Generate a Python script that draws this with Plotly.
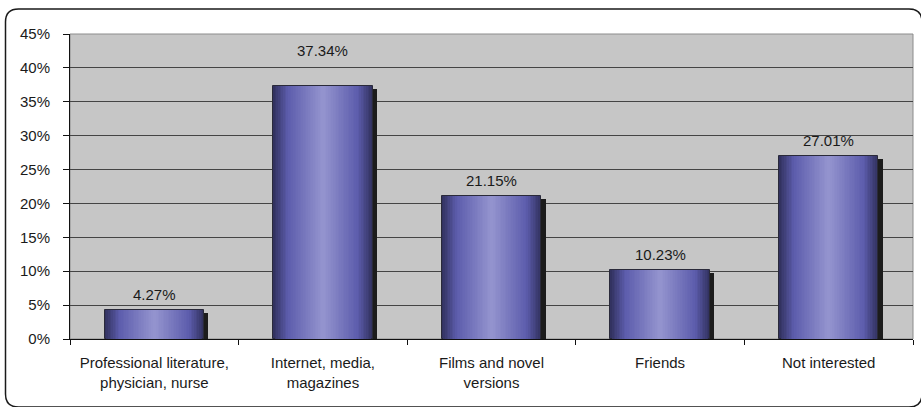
import plotly.graph_objects as go

categories = [
    "Professional literature,<br>physician, nurse",
    "Internet, media,<br>magazines",
    "Films and novel<br>versions",
    "Friends",
    "Not interested",
]
values = [4.27, 37.34, 21.15, 10.23, 27.01]
label_lift = [5, 25, 5, 5, 5]  # px above bar top for each value label

W, H = 921, 407
ML, MR, MT, MB = 70, 8, 34, 68
BAR_W = 0.59
FONT = "Liberation Sans, Arial"


def lerp(c1, c2, t):
    return tuple(round(a + (b - a) * t) for a, b in zip(c1, c2))


CENTER = (150, 150, 208)
MID = (92, 92, 172)
EDGE = (50, 50, 96)


def shade(d):
    # d: 0 at the bar centre, 1 at its edge
    if d <= 0.72:
        c = lerp(CENTER, MID, d / 0.72)
    else:
        c = lerp(MID, EDGE, (d - 0.72) / 0.28)
    return "rgb(%d,%d,%d)" % c


fig = go.Figure()

# drop shadow to the right of each bar
fig.add_trace(go.Bar(
    x=categories, y=[v - 0.45 for v in values],
    width=BAR_W, offset=-BAR_W / 2 + 0.026,
    marker=dict(color="#1c1c1c", line=dict(width=0)),
    hoverinfo="skip", showlegend=False,
))

# cylinder-like horizontal gradient from stacked, narrowing layers
N = 30
for k in range(N):
    d = 1 - k / N
    w = BAR_W * d
    fig.add_trace(go.Bar(
        x=categories, y=values, width=w, offset=-w / 2,
        marker=dict(color=shade(d),
                    line=dict(width=1 if k == 0 else 0, color="#2a2a3a")),
        hoverinfo="skip", showlegend=False,
    ))

for cat, v, lift in zip(categories, values, label_lift):
    fig.add_annotation(
        x=cat, y=v, text=f"{v:.2f}%", showarrow=False,
        yanchor="bottom", yshift=lift,
        font=dict(family=FONT, size=15, color="#1a1a1a"),
    )

pw, ph = W - ML - MR, H - MT - MB


def px(x):
    return (x - ML) / pw


def py(y):
    return (H - MB - y) / ph


# rounded outer frame of the chart
L, T, R, B, r = 5.5, 9.0, 922.0, 407.0, 13.0
frame = (
    f"M {px(L)},{py(T + r)} Q {px(L)},{py(T)} {px(L + r)},{py(T)} "
    f"L {px(R - r)},{py(T)} Q {px(R)},{py(T)} {px(R)},{py(T + r)} "
    f"L {px(R)},{py(B - r)} Q {px(R)},{py(B)} {px(R - r)},{py(B)} "
    f"L {px(L + r)},{py(B)} Q {px(L)},{py(B)} {px(L)},{py(B - r)} Z"
)
fig.add_shape(type="path", path=frame, xref="paper", yref="paper",
              line=dict(color="#1a1a1a", width=1.5), layer="below")

# plot-area border
fig.add_shape(type="rect", xref="paper", yref="paper", x0=0, x1=1, y0=0, y1=1,
              line=dict(color="#8c8c8c", width=1), layer="below")

fig.update_layout(
    width=W, height=H,
    margin=dict(l=ML, r=MR, t=MT, b=MB),
    paper_bgcolor="white",
    plot_bgcolor="#c6c6c6",
    barmode="overlay",
    bargap=0,
    font=dict(family=FONT, size=15, color="#1a1a1a"),
    xaxis=dict(
        type="category", showgrid=False, zeroline=False,
        showline=True, linecolor="#111", linewidth=1,
        ticks="outside", tickson="boundaries", ticklen=5,
        tickcolor="#111", tickfont=dict(size=15),
        ticklabelstandoff=10,
    ),
    yaxis=dict(
        range=[0, 45], dtick=5, ticksuffix="%",
        showgrid=True, gridcolor="#444444", gridwidth=1,
        zeroline=False, showline=True, linecolor="#111", linewidth=1,
        ticks="outside", ticklen=6, tickcolor="#111",
        tickfont=dict(size=15), ticklabelstandoff=10,
    ),
)

fig.write_html("out.html")
